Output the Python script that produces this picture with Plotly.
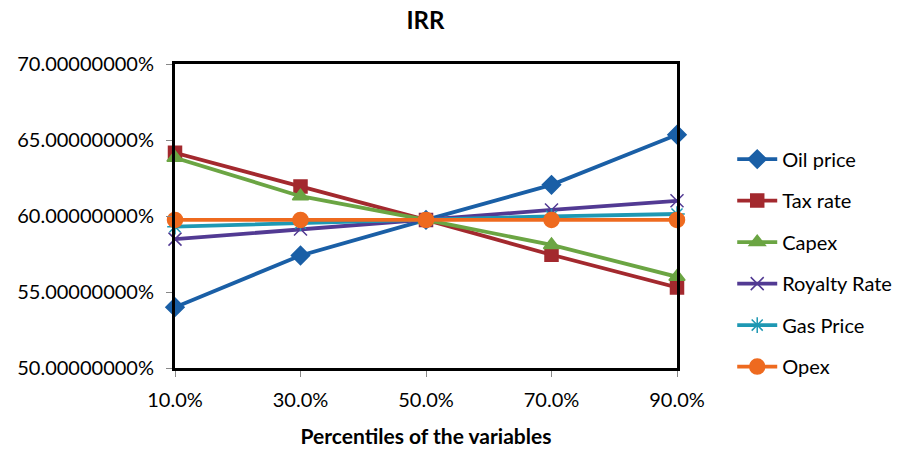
import plotly.graph_objects as go

percentiles = [10, 30, 50, 70, 90]
x_labels = ["10.0%", "30.0%", "50.0%", "70.0%", "90.0%"]

oil_price = [0.5400, 0.5740, 0.5974, 0.6205, 0.6535]
tax_rate = [0.6416, 0.6194, 0.5974, 0.5745, 0.5530]
capex = [0.6383, 0.6130, 0.5974, 0.5810, 0.5600]
royalty_rate = [0.5848, 0.5914, 0.5974, 0.6040, 0.6100]
gas_price = [0.5930, 0.5952, 0.5974, 0.5998, 0.6013]
opex = [0.5974, 0.5974, 0.5974, 0.5974, 0.5974]

y_ticks = [0.50, 0.55, 0.60, 0.65, 0.70]
y_labels = ["50.00000000%", "55.00000000%", "60.00000000%", "65.00000000%", "70.00000000%"]

series = [
    ("Oil price", oil_price, "#1A5FA6", "diamond", 14),
    ("Tax rate", tax_rate, "#A3292E", "square", 13),
    ("Capex", capex, "#6BA543", "triangle-up", 14),
    ("Royalty Rate", royalty_rate, "#523A93", "x-thin-open", 13),
    ("Gas Price", gas_price, "#1E98B3", "asterisk-open", 13),
    ("Opex", opex, "#EE6A1F", "circle", 15),
]

fig = go.Figure()
for i, (name, vals, color, sym, size) in enumerate(series):
    fig.add_trace(go.Scatter(
        x=percentiles, y=vals, name=name, mode="lines+markers",
        line=dict(color=color, width=3.8),
        marker=dict(symbol=sym, size=size, color=color,
                    line=dict(color=color, width=1.5)),
        legendgroup=f"g{i}", cliponaxis=False,
    ))

font_family = "Lato, 'Open Sans', sans-serif"
fig.update_layout(
    width=909, height=462,
    margin=dict(l=175, r=232, t=64, b=94),
    paper_bgcolor="white", plot_bgcolor="white",
    font=dict(family=font_family, size=20, color="#000000"),
    title=dict(text="<b>IRR</b>", x=0.468, xanchor="center", y=0.955, yanchor="middle",
               font=dict(size=24, family=font_family)),
    showlegend=True,
    legend=dict(x=1.11, xanchor="left", y=0.345, yanchor="middle",
                tracegroupgap=12.5, font=dict(size=20), bgcolor="rgba(0,0,0,0)",
                itemwidth=40),
)
fig.update_xaxes(
    range=[10, 90], tickmode="array", tickvals=percentiles, ticktext=x_labels,
    showgrid=False, zeroline=False, showline=True, linecolor="black", linewidth=3,
    mirror=True, ticks="outside", ticklen=6, tickcolor="#888", ticklabelstandoff=6,
    title=dict(text="<b>Percentiles of the variables</b>", standoff=20, font=dict(size=21)),
)
fig.update_yaxes(
    range=[0.50, 0.70], tickmode="array", tickvals=y_ticks, ticktext=y_labels,
    showgrid=False, zeroline=False, showline=True, linecolor="black", linewidth=3,
    mirror=True, ticks="outside", ticklen=6, tickcolor="#888", ticklabelstandoff=8,
)
fig.write_html("out.html")
